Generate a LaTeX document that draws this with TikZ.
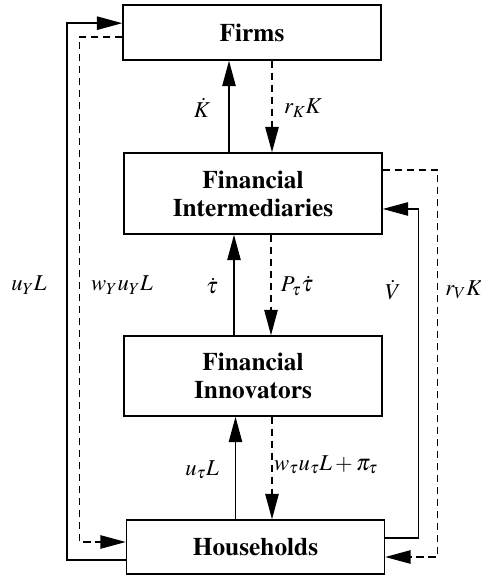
\documentclass[tikz,border=0pt]{standalone}
\usepackage[T1]{fontenc}
\usepackage{amsmath}
\usepackage{mathptmx}
\usepackage{tikz}
\usetikzlibrary{arrows.meta, positioning, calc}

\begin{document}
\begin{tikzpicture}[
  x=0.75pt, y=-0.75pt,
  block/.style={draw, line width=1.1pt, minimum width=193.5pt, align=center,
                font=\fontsize{19}{21}\selectfont\bfseries, inner sep=0pt},
  flow/.style={-{Triangle[length=19pt, width=10pt]}, line width=1.1pt},
  flowd/.style={flow, dash pattern=on 5.5pt off 3.5pt},
  lbl/.style={font=\fontsize{17}{20}\selectfont, inner sep=0pt}
]
\useasboundingbox (0,0) rectangle (480,576);

% Boxes
\node[block, minimum height=41.25pt] (firms) at (252,32.5) {Firms};
\node[block, minimum height=60.75pt] (fi) at (253,193.5) {Financial\\Intermediaries};
\node[block, minimum height=60pt] (innov) at (253,376) {Financial\\Innovators};
\node[block, minimum height=40.5pt] (house) at (255.5,547) {Households};

% Vertical flows
\draw[flow] ([xshift=-18pt]fi.north) -- ([xshift=-18pt]fi.north |- firms.south);
\draw[flowd] ([xshift=15pt]firms.south) -- ([xshift=15pt]firms.south |- fi.north);
\draw[flow] ([xshift=-14.25pt]innov.north) -- ([xshift=-14.25pt]innov.north |- fi.south);
\draw[flowd] ([xshift=13.5pt]fi.south) -- ([xshift=13.5pt]fi.south |- innov.north);
\draw[flow] ([xshift=-15pt]house.north) -- ([xshift=-15pt]house.north |- innov.south);
\draw[flowd] ([xshift=14.25pt]innov.south) -- ([xshift=14.25pt]innov.south |- house.north);

% Outer loops
\draw[flow] ([yshift=-9.75pt]house.west) -- ++(-44.25pt,0) |- ([yshift=7pt]firms.west);
\draw[flowd] ([yshift=-3.4pt]firms.west) -- ++(-32.25pt,0) |- ([yshift=3.75pt]house.west);
\draw[flow] ([yshift=6.75pt]house.east) -- ++(24.75pt,0) |- ([yshift=-11.6pt]fi.east);
\draw[flowd] ([yshift=17.6pt]fi.east) -- ++(41.25pt,0) |- ([yshift=-7.5pt]house.east);

% Labels
\node[lbl] (lkdot) at (202,108) {$\dot{K}$};
\node[lbl] (lrk) at (303,108) {$r_{K}K$};
\node[lbl] (ltau) at (212,286) {$\dot{\tau}$};
\node[lbl] (lptau) at (297,286) {$P_{\tau}\dot{\tau}$};
\node[lbl] (lutau) at (202,470) {$u_{\tau}L$};
\node[lbl] (lwtau) at (326,465) {$w_{\tau}u_{\tau}L+\pi_{\tau}$};
\node[lbl] (luy) at (29,285) {$u_{Y}L$};
\node[lbl] (lwy) at (122,285) {$w_{Y}u_{Y}L$};
\node[lbl] (lvdot) at (393,290) {$\dot{V}$};
\node[lbl, anchor=west] (lrv) at (445,290) {$r_{V}K$};

\end{tikzpicture}
\end{document}
